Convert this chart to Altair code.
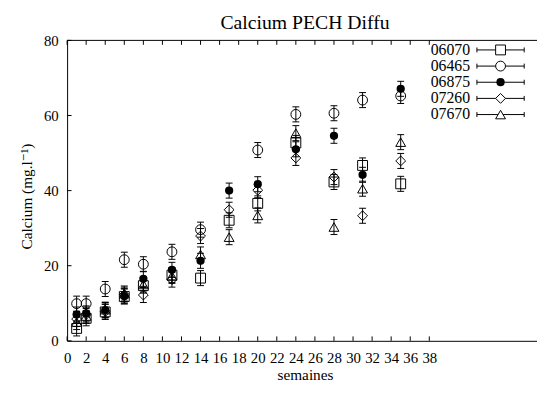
import altair as alt
import pandas as pd

# ---- data ----
title_text = ["Calcium PECH Diffu"]
weeks = [1, 2, 4, 6, 8, 11, 14, 17, 20, 24, 28, 31, 35]
series_names = ["06070", "06465", "06875", "07260", "07670"]
v06070 = [3.3, 6.0, 7.7, 11.8, 14.7, 17.5, 16.7, 32.1, 36.6, 52.7, 42.3, 46.7, 41.8]
v06465 = [9.9, 9.9, 13.8, 21.6, 20.4, 23.7, 29.6, None, 50.8, 60.3, 60.6, 64.1, 65.2]
v06875 = [7.0, 7.3, 8.2, 11.9, 16.5, 18.9, 21.3, 40.0, 41.7, 51.0, 54.6, 44.2, 67.1]
v07260 = [5.8, 7.0, 7.8, 12.3, 12.2, 16.3, 27.9, 34.9, 40.1, 48.7, 43.6, 33.3, 47.9]
v07670 = [5.0, 6.6, 8.3, 12.6, 15.0, 17.3, 23.0, 27.6, 33.4, 55.3, 30.3, 40.5, 52.9]
e06070 = [2.0, 2.0, 2.0, 2.0, 2.0, 2.0, 2.0, 2.0, 2.0, 2.0, 2.0, 2.0, 2.0]
e06465 = [2.0, 2.0, 2.0, 2.0, 2.0, 2.0, 2.0, 2.0, 2.0, 2.0, 2.0, 2.0, 2.0]
e06875 = [2.0, 2.0, 2.0, 2.0, 2.0, 2.0, 2.0, 2.0, 2.0, 2.0, 2.0, 2.0, 2.0]
e07260 = [2.0, 2.0, 2.0, 2.0, 2.0, 2.0, 2.0, 2.0, 2.0, 2.0, 2.0, 2.0, 2.0]
e07670 = [2.0, 2.0, 2.0, 2.0, 2.0, 2.0, 2.0, 2.0, 2.0, 2.0, 2.0, 2.0, 2.0]
shapes = ["square", "circle", "circle", "diamond", "triangle-up"]
xticks = [0, 2, 4, 6, 8, 10, 12, 14, 16, 18, 20, 22, 24, 26, 28, 30, 32, 34, 36, 38]
yticks = [0, 20, 40, 60, 80]

values = dict(zip(series_names, [v06070, v06465, v06875, v07260, v07670]))
errors = dict(zip(series_names, [e06070, e06465, e06875, e07260, e07670]))

rows = []
for name in series_names:
    for w, v, e in zip(weeks, values[name], errors[name]):
        if v is None:
            continue
        rows.append(dict(series=name, week=w, value=v, lo=v - e, hi=v + e))
df = pd.DataFrame(rows)
legend_df = pd.DataFrame({"series": series_names, "row": list(range(len(series_names)))})

W, H = 477, 305
FONT = "Times New Roman, Liberation Serif, Times, DejaVu Serif, serif"

xscale = alt.Scale(domain=[0, 49.3], nice=False, zero=False)
yscale = alt.Scale(domain=[0, 80], nice=False, zero=False)
common = dict(labelFont=FONT, labelFontSize=15, labelColor="black",
              titleFont=FONT, titleFontSize=15.5, titleFontWeight="normal", titleColor="black",
              domainColor="black", domainWidth=1, ticks=False, tickSize=0,
              labelFlush=False, labelOverlap=False, grid=False, format="d")
xaxis = alt.Axis(values=xticks, labelPadding=10, title="semaines", titleX=241.5, titleY=39,
                 titleBaseline="alphabetic", **common)
yaxis = alt.Axis(values=yticks, labelPadding=9, title="Calcium (mg.l⁻¹)", titleX=-41,
                 titleY=158, titleBaseline="middle", titleAngle=270, **common)
X = lambda f: alt.X(f, type="quantitative", scale=xscale, axis=xaxis)
Y = lambda f: alt.Y(f, type="quantitative", scale=yscale, axis=yaxis)
shape_enc = alt.Shape("series:N", scale=alt.Scale(domain=series_names, range=shapes), legend=None)

base = alt.Chart(df)
bars = base.mark_rule(color="black", strokeWidth=1).encode(x=X("week"), y=Y("lo"), y2="hi")
cap_lo = base.mark_rule(color="black", strokeWidth=1, xOffset=-3.5, x2Offset=3.5).encode(
    x=X("week"), x2="week", y=Y("lo"))
cap_hi = base.mark_rule(color="black", strokeWidth=1, xOffset=-3.5, x2Offset=3.5).encode(
    x=X("week"), x2="week", y=Y("hi"))
open_pts = base.transform_filter(alt.datum.series != "06875").mark_point(
    filled=False, color="black", strokeWidth=1, size=100, opacity=1).encode(
    x=X("week"), y=Y("value"), shape=shape_enc)
filled_pts = base.transform_filter(alt.datum.series == "06875").mark_point(
    filled=True, color="black", size=70, opacity=1).encode(
    x=X("week"), y=Y("value"), shape=shape_enc)

xt = alt.Chart(pd.DataFrame({"t": xticks}))
yt = alt.Chart(pd.DataFrame({"t": yticks}))
bottom_ticks = xt.mark_rule(color="black").encode(x=X("t"), y=alt.value(H), y2=alt.value(H - 4.5))
top_ticks = xt.mark_rule(color="black").encode(x=X("t"), y=alt.value(0), y2=alt.value(4.5))
left_ticks = yt.mark_rule(color="black").encode(y=Y("t"), x=alt.value(0), x2=alt.value(4.5))
top_border = yt.transform_filter(alt.datum.t == 80).mark_rule(color="black").encode(
    y=Y("t"), x=alt.value(0), x2=alt.value(W))

main = alt.layer(bars, cap_lo, cap_hi, open_pts, filled_pts,
                 bottom_ticks, top_ticks, left_ticks, top_border)

lscale = alt.Scale(domain=[0, 4], range=[9.7, 75.3])
LY = alt.Y("row:Q", scale=lscale, axis=None)
lb = alt.Chart(legend_df)
l_text = lb.mark_text(align="right", baseline="middle", font=FONT, fontSize=16, color="black").encode(
    x=alt.value(409), y=LY, text="series:N")
l_line = lb.mark_rule(color="black").encode(x=alt.value(416), x2=alt.value(464), y=LY)
l_capl = lb.mark_rule(color="black", yOffset=-2.5, y2Offset=2.5).encode(x=alt.value(416), y=LY, y2="row:Q")
l_capr = lb.mark_rule(color="black", yOffset=-2.5, y2Offset=2.5).encode(x=alt.value(464), y=LY, y2="row:Q")
l_open = lb.transform_filter(alt.datum.series != "06875").mark_point(
    filled=True, fill="white", stroke="black", strokeWidth=1, size=100, opacity=1).encode(
    x=alt.value(440), y=LY, shape=shape_enc)
l_filled = lb.transform_filter(alt.datum.series == "06875").mark_point(
    filled=True, color="black", size=70, opacity=1).encode(
    x=alt.value(440), y=LY, shape=shape_enc)
title_mark = alt.Chart(pd.DataFrame({"t": title_text})).mark_text(
    align="center", baseline="alphabetic", font=FONT, fontSize=20, color="black").encode(
    x=alt.value(241.5), y=alt.value(-12), text="t:N")
legend = alt.layer(l_text, l_line, l_capl, l_capr, l_open, l_filled, title_mark)

chart = alt.layer(main, legend).resolve_scale(y="independent").properties(
    width=W, height=H,
    autosize=alt.AutoSizeParams(type="none"),
    padding={"left": 60, "top": 30, "right": 0, "bottom": 44},
    background="white",
).configure_view(stroke=None)

chart.save("out.html", embed_options={"renderer": "svg", "actions": False})
